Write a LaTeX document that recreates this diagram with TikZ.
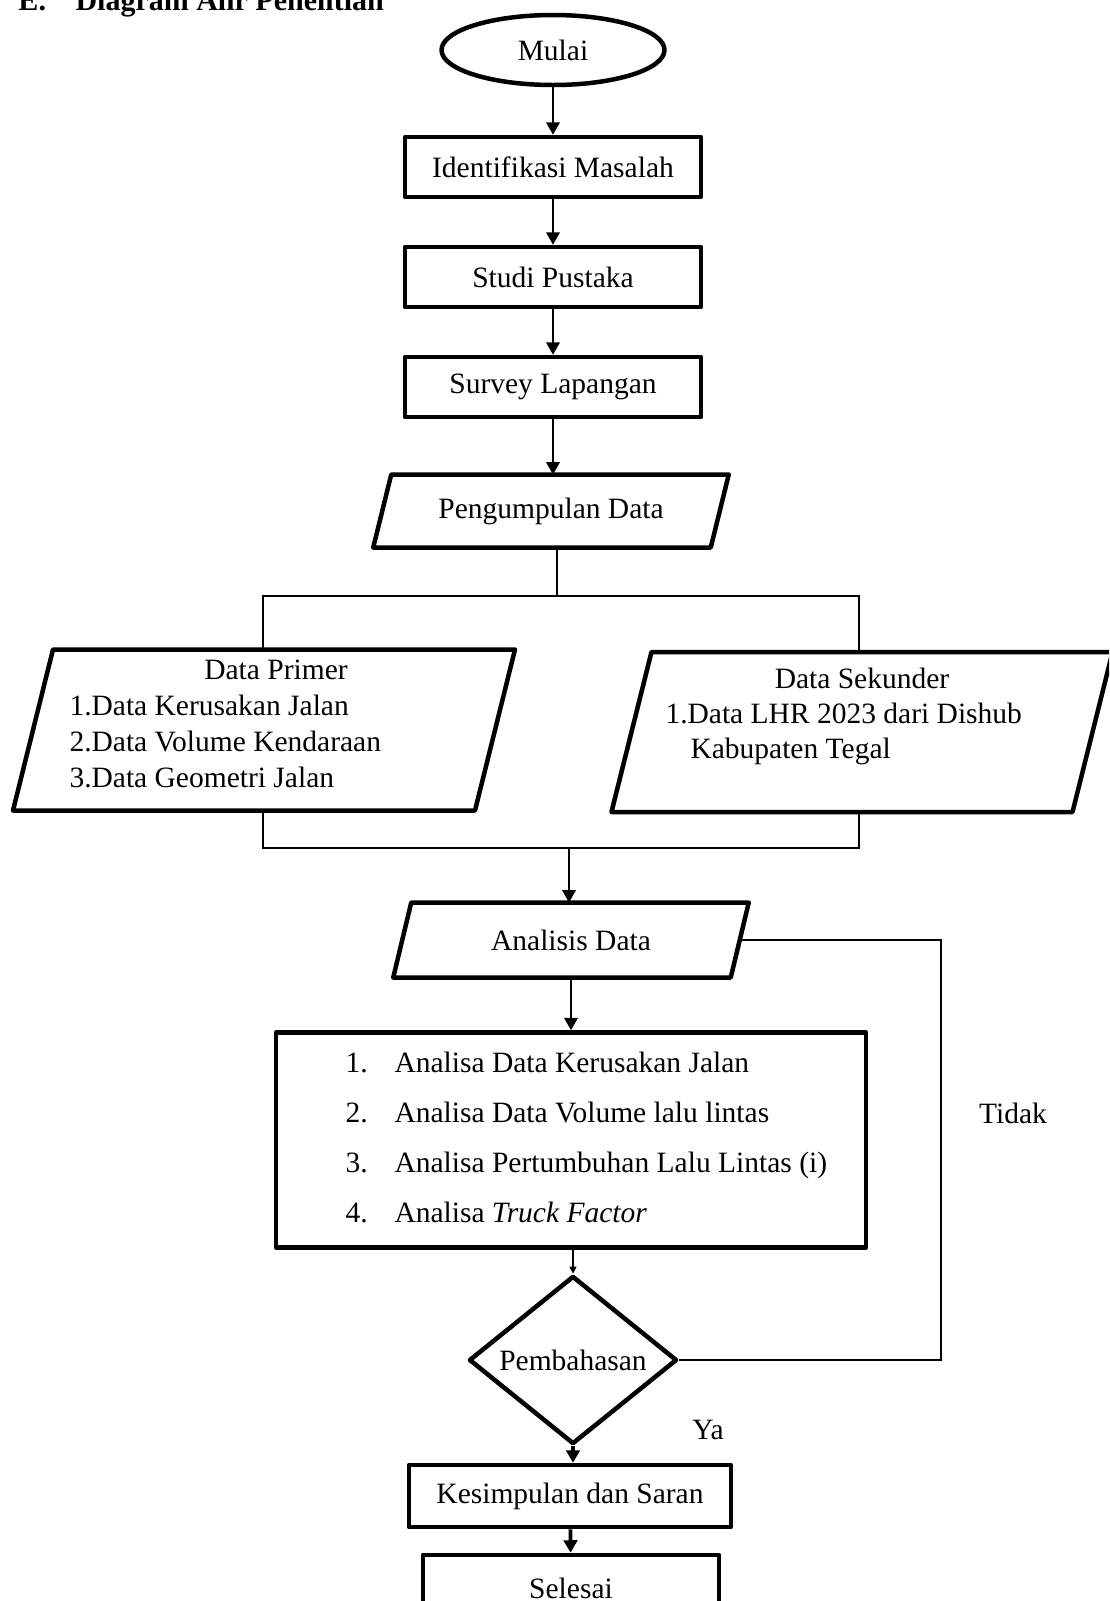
\documentclass[tikz,border=0pt]{standalone}
\usepackage{fontspec}
\setmainfont{Liberation Serif}
\usetikzlibrary{arrows.meta,shapes.geometric,calc}

\begin{document}
\begin{tikzpicture}[x=0.4pt, y=-0.4pt, font=\fontsize{11.8}{14}\selectfont,
  border/.style={draw, line width=1.8pt, line join=round},
  box/.style={border, rectangle, minimum width=118.4pt, minimum height=24pt, inner sep=0pt},
  txt/.style={inner sep=0pt},
  arr/.style={-{Triangle[length=5pt,width=5.4pt]}, line width=0.9pt},
  thinline/.style={line width=0.45pt}]

\useasboundingbox (0,0) rectangle (1109,1601);
\clip (0,0) rectangle (1109,1601);

\node[txt, anchor=base west, font=\fontsize{12}{14}\selectfont\bfseries] (nomor) at (18,10) {E.};
\node[txt, anchor=base west, font=\fontsize{12}{14}\selectfont\bfseries] (judul) at (75,10) {Diagram Alir Penelitian};

\node[border, ellipse, minimum width=89.2pt, minimum height=28pt, inner sep=0pt] (mulai) at (553,50) {Mulai};
\node[box] (identifikasi) at (553,167) {Identifikasi Masalah};
\node[box] (studi) at (553,277) {Studi Pustaka};
\node[box] (survey) at (553,387) {Survey Lapangan};
\node[txt, minimum width=134.6pt, minimum height=28.8pt] (kumpul) at (551,511) {Pengumpulan Data};
\node[txt, minimum width=184.4pt, minimum height=64pt] (primer) at (264,730) {};
\node[txt, minimum width=184pt, minimum height=63.6pt] (sekunder) at (862,732) {};
\node[txt, minimum width=134.6pt, minimum height=29.6pt] (analisis) at (571,940) {Analisis Data};
\node[box, minimum width=236pt, minimum height=86pt] (analisa) at (571,1140) {};
\node[border, diamond, minimum width=83.2pt, minimum height=62.4pt, inner sep=0pt] (bahas) at (573,1360) {Pembahasan};
\node[box, minimum width=128.8pt, minimum height=24.8pt] (kesimpulan) at (570,1496) {Kesimpulan dan Saran};
\node[box, minimum height=26.4pt] (selesai) at (571,1588) {Selesai};

\foreach \n/\d in {kumpul/9, primer/20, sekunder/20, analisis/9}
  \draw[border] ($(\n.south west)+(-\d,0)$) -- ($(\n.north west)+(\d,0)$)
    -- ($(\n.north east)+(\d,0)$) -- ($(\n.south east)+(-\d,0)$) -- cycle;

\node[txt, anchor=base] (primerjudul) at (276,679) {Data Primer};
\node[txt, anchor=base west] (primer1) at (69,715) {1.Data Kerusakan Jalan};
\node[txt, anchor=base west] (primer2) at (69,751) {2.Data Volume Kendaraan};
\node[txt, anchor=base west] (primer3) at (69,787) {3.Data Geometri Jalan};

\node[txt, anchor=base] (sekunderjudul) at (862,688) {Data Sekunder};
\node[txt, anchor=base west] (sekunder1) at (665,723) {1.Data LHR 2023 dari Dishub};
\node[txt, anchor=base west] (sekunder2) at (690,758) {Kabupaten Tegal};

\foreach \i/\t in {1/Analisa Data Kerusakan Jalan, 2/Analisa Data Volume lalu lintas,
    3/Analisa Pertumbuhan Lalu Lintas (i), 4/Analisa \textit{Truck Factor}} {
  \node[txt, anchor=base west] (no\i) at (345,{1022+50*\i}) {\i.};
  \node[txt, anchor=base west] (item\i) at (394,{1022+50*\i}) {\t};
}

\node[txt] (tidak) at (1013,1113) {Tidak};
\node[txt] (ya) at (708,1430) {Ya};

\coordinate (pisah) at (557,596);
\coordinate (pisahkiri) at (263,596);
\coordinate (pisahkanan) at (859,596);
\coordinate (gabung) at (569,848);
\coordinate (gabungkiri) at (263,848);
\coordinate (gabungkanan) at (859,848);
\coordinate (balik) at (941,940);

\draw[arr] (mulai) -- (identifikasi);
\draw[arr] (identifikasi) -- (studi);
\draw[arr] (studi) -- (survey);
\draw[arr] (survey) -- (survey |- kumpul.north);
\draw[thinline] (pisah |- kumpul.south) -- (pisah);
\draw[thinline] (pisahkiri |- primer.north) -- (pisahkiri) -- (pisahkanan) -- (pisahkanan |- sekunder.north);
\draw[thinline] (gabungkiri |- primer.south) -- (gabungkiri) -- (gabungkanan) -- (gabungkanan |- sekunder.south);
\draw[arr] (gabung) -- (gabung |- analisis.north);
\draw[arr] (analisis) -- (analisa);
\draw[thinline, -{Triangle[length=2.8pt,width=2.8pt]}] (bahas |- analisa.south) -- (bahas.north);
\draw[arr, line width=1.3pt] (bahas.south) -- (bahas.south |- kesimpulan.north);
\draw[arr, line width=1.5pt] (kesimpulan) -- (selesai);
\draw[thinline] (bahas.east) -| (balik) -- (analisis.east);
\end{tikzpicture}
\end{document}
